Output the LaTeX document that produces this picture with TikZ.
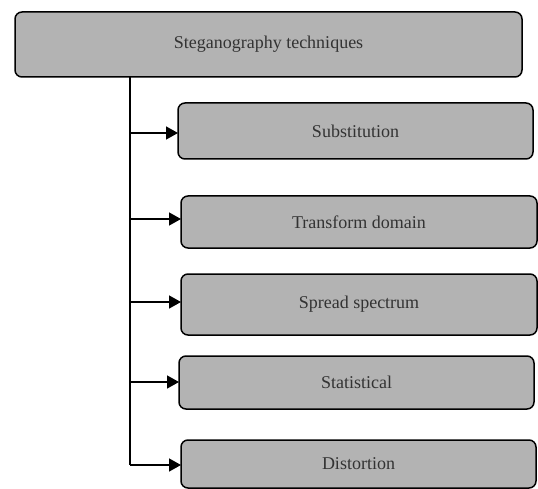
\documentclass[tikz,border=0pt]{standalone}
\usepackage{fontspec}
\setmainfont{Liberation Serif}
\usetikzlibrary{arrows.meta}
\definecolor{boxgray}{HTML}{B3B3B3}
\definecolor{txtgray}{HTML}{333333}
\begin{document}
\begin{tikzpicture}[x=1pt,y=-1pt,
  techbox/.style={draw=black,line width=1.5pt,fill=boxgray,rounded corners=7pt},
  techtext/.style={text=txtgray,font=\fontsize{18}{21}\selectfont},
  conn/.style={line width=1.5pt,-{Triangle[length=12pt,width=13pt]}}]
\useasboundingbox (0,0) rectangle (538,489);
\path[techbox] (15,12) rectangle (522,77);
\node[techtext] (top) at (268.5,44.5) {Steganography techniques};
\coordinate (topb) at (130,77);
\path[techbox] (178,103) rectangle (533,159);
\node[techtext] (sub) at (355.5,131) {Substitution};
\path[techbox] (181,196) rectangle (537,248);
\node[techtext] (tra) at (359,222) {Transform domain};
\path[techbox] (181,274) rectangle (537,335);
\node[techtext] (spr) at (359,304.5) {Spread spectrum};
\path[techbox] (179,356) rectangle (534,409);
\node[techtext] (sta) at (356.5,382.5) {Statistical};
\path[techbox] (181,440) rectangle (536,488);
\node[techtext] (dis) at (358.5,464) {Distortion};
\coordinate (subL) at (178,133);
\coordinate (traL) at (181,219);
\coordinate (sprL) at (181,302);
\coordinate (staL) at (179,382);
\coordinate (disL) at (181,465);
\draw[line width=1.5pt] (topb) -- (130,465);
\draw[conn] (130,133) -- (subL);
\draw[conn] (130,219) -- (traL);
\draw[conn] (130,302) -- (sprL);
\draw[conn] (130,382) -- (staL);
\draw[conn] (130,465) -- (disL);
\end{tikzpicture}
\end{document}
